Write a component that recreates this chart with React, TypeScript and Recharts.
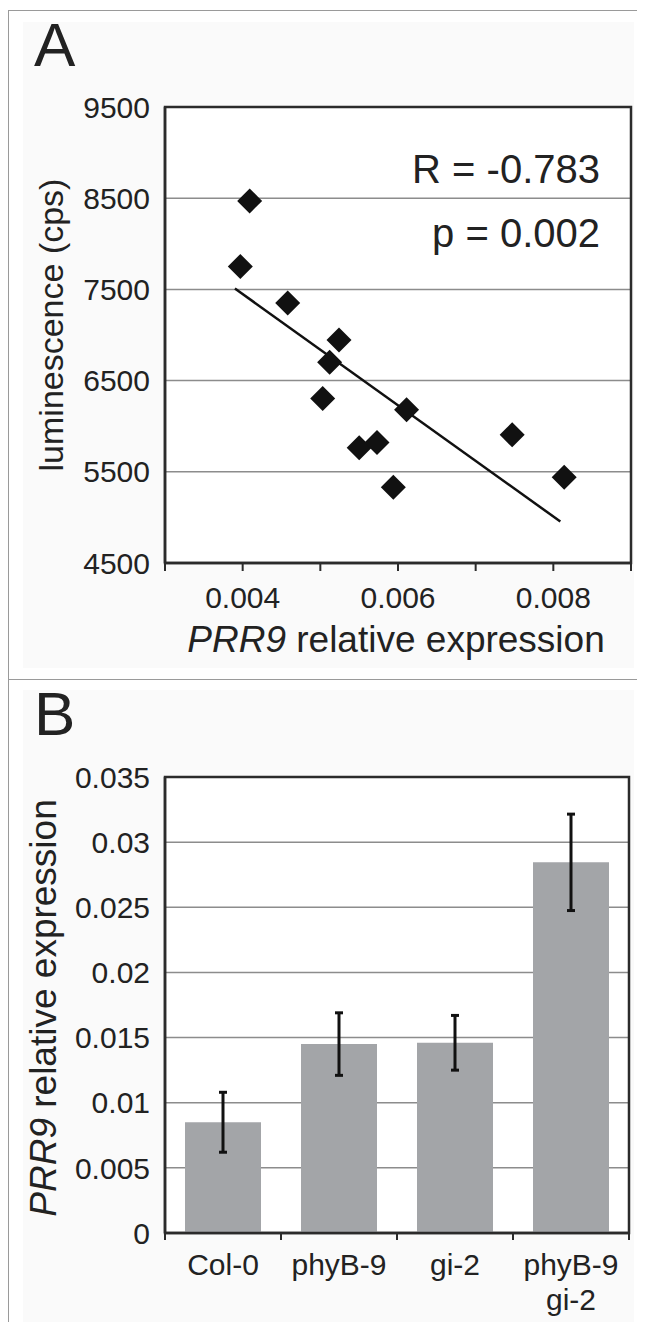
import {
  ScatterChart,
  Scatter,
  BarChart,
  Bar,
  XAxis,
  YAxis,
  CartesianGrid,
  ReferenceArea,
  ErrorBar,
} from "recharts";

// panel A: luminescence vs PRR9 expression
const prr9Expr = [0.00409, 0.00397, 0.00458, 0.00524, 0.00512, 0.00503, 0.00611, 0.0055, 0.00573, 0.00594, 0.00747, 0.00814];
const luminescence = [8470, 7750, 7350, 6945, 6700, 6305, 6180, 5765, 5820, 5330, 5905, 5440];
const trendX = [0.0039, 0.00809];
const trendY = [7510, 4955];
const xTicksA = [0.003, 0.004, 0.005, 0.006, 0.007, 0.008, 0.009];
const xTickLabelsA = ["", "0.004", "", "0.006", "", "0.008", ""];
const yTicksA = [4500, 5500, 6500, 7500, 8500, 9500];

// panel B: PRR9 expression per genotype
const genotypes = ["Col-0", "phyB-9", "gi-2", "phyB-9\ngi-2"];
const meanExpr = [0.0085, 0.0145, 0.0146, 0.02845];
const sdExpr = [0.0023, 0.0024, 0.0021, 0.0037];
const yTicksB = [0, 0.005, 0.01, 0.015, 0.02, 0.025, 0.03, 0.035];
// band edges (tick marks) and band centres (labels)
const xTicksB = [0, 0.5, 1, 1.5, 2, 2.5, 3, 3.5, 4];

const FONT = '"Liberation Sans", Arial, sans-serif';
const INK = "#222";
const BOX = "#2b2b2b";
const GRID = "#8c8c8c";

const scatterData = prr9Expr.map((x, i) => ({ x, y: luminescence[i] }));
const trendData = trendX.map((x, i) => ({ x, y: trendY[i] }));
const barData = genotypes.map((g, i) => ({ pos: i + 0.5, genotype: g, expr: meanExpr[i], sd: sdExpr[i] }));

const tickStyle = { fill: INK, fontSize: 30, fontFamily: FONT };
const boxLine = { stroke: BOX, strokeWidth: 2.5 };

const Diamond = (props: any) => {
  const { cx, cy } = props;
  const r = 12.5;
  return (
    <polygon
      points={`${cx},${cy - r} ${cx + r},${cy} ${cx},${cy + r} ${cx - r},${cy}`}
      fill="#111"
    />
  );
};

const NoDot = () => <g />;

// tickSize 6 + tickMargin 15 -> y is 21px below the axis line
const BandTick = (props: any) => {
  const { x, y, payload } = props;
  const v = payload.value;
  if (Number.isInteger(v)) {
    return <line x1={x} x2={x} y1={y - 21} y2={y - 14} stroke={BOX} strokeWidth={2} />;
  }
  const lines = genotypes[Math.floor(v)].split("\n");
  return (
    <text x={x} y={y} textAnchor="middle" fill={INK} fontSize={30} fontFamily={FONT}>
      {lines.map((l, i) => (
        <tspan key={i} x={x} dy={i === 0 ? "0.71em" : 35}>
          {l}
        </tspan>
      ))}
    </text>
  );
};

const abs = (s: any) => ({ position: "absolute" as const, ...s });

export default function App() {
  return (
    <div
      style={{
        position: "relative",
        width: 645,
        height: 1330,
        margin: -8,
        background: "#fff",
        fontFamily: FONT,
        color: INK,
        overflow: "hidden",
      }}
    >
      {/* frame + panel backgrounds */}
      <div style={abs({ left: 23, top: 22, width: 611, height: 646, background: "#fafafa" })} />
      <div style={abs({ left: 23, top: 690, width: 611, height: 632, background: "#fafafa" })} />
      <div style={abs({ left: 8, top: 10, width: 640, borderTop: "1.5px solid #9a9a9a" })} />
      <div style={abs({ left: 8, top: 679, width: 640, borderTop: "1.5px solid #9a9a9a" })} />
      <div style={abs({ left: 8, top: 10, height: 1320, borderLeft: "1.5px solid #9a9a9a" })} />

      {/* panel A */}
      <div style={abs({ left: 0, top: 0 })}>
        <ScatterChart width={645} height={680} margin={{ top: 107, right: 14, bottom: 87, left: 105 }}>
          <CartesianGrid vertical={false} stroke={GRID} strokeWidth={1.5} fill="#fff" />
          <XAxis
            type="number"
            dataKey="x"
            domain={[0.003, 0.009]}
            ticks={xTicksA}
            interval={0}
            tickFormatter={(v: number) => xTickLabelsA[xTicksA.indexOf(v)] ?? ""}
            tick={tickStyle}
            tickSize={8}
            tickMargin={16}
            height={30}
            axisLine={boxLine}
            tickLine={{ stroke: BOX, strokeWidth: 2 }}
            allowDataOverflow
          />
          <YAxis
            type="number"
            dataKey="y"
            domain={[4500, 9500]}
            ticks={yTicksA}
            interval={0}
            tick={tickStyle}
            tickSize={8}
            tickMargin={7}
            width={60}
            axisLine={boxLine}
            tickLine={false}
            allowDataOverflow
          />
          <Scatter
            data={trendData}
            line={{ stroke: "#111", strokeWidth: 2.5 }}
            shape={NoDot}
            isAnimationActive={false}
          />
          <Scatter data={scatterData} shape={Diamond} isAnimationActive={false} />
          <ReferenceArea
            x1={0.003}
            x2={0.009}
            y1={4500}
            y2={9500}
            ifOverflow="visible"
            fill="none"
            fillOpacity={0}
            stroke={BOX}
            strokeWidth={2.5}
          />
        </ScatterChart>
      </div>
      <div style={abs({ left: 34, top: 14, fontSize: 62, lineHeight: "62px" })}>A</div>
      <div style={abs({ right: 45, top: 149, fontSize: 40, lineHeight: "40px", whiteSpace: "nowrap" })}>
        R = -0.783
      </div>
      <div style={abs({ right: 45, top: 213, fontSize: 40, lineHeight: "40px", whiteSpace: "nowrap" })}>
        p = 0.002
      </div>
      <div
        style={abs({
          left: 396,
          top: 640,
          transform: "translate(-50%, -50%)",
          fontSize: 37,
          whiteSpace: "nowrap",
        })}
      >
        <i>PRR9</i> relative expression
      </div>
      <div
        style={abs({
          left: 51,
          top: 325,
          transform: "translate(-50%, -50%) rotate(-90deg)",
          fontSize: 34,
          whiteSpace: "nowrap",
        })}
      >
        luminescence (cps)
      </div>

      {/* panel B */}
      <div style={abs({ left: 0, top: 680 })}>
        <BarChart
          width={645}
          height={650}
          data={barData}
          margin={{ top: 97, right: 16, bottom: 37, left: 105 }}
        >
          <CartesianGrid vertical={false} stroke={GRID} strokeWidth={1.5} fill="#fff" />
          <XAxis
            type="number"
            dataKey="pos"
            domain={[0, 4]}
            ticks={xTicksB}
            interval={0}
            tick={<BandTick />}
            tickSize={6}
            tickMargin={15}
            height={60}
            axisLine={boxLine}
            tickLine={false}
            allowDataOverflow
          />
          <YAxis
            type="number"
            domain={[0, 0.035]}
            ticks={yTicksB}
            interval={0}
            tickFormatter={(v: number) => String(v)}
            tick={tickStyle}
            tickSize={8}
            tickMargin={7}
            width={60}
            axisLine={boxLine}
            tickLine={false}
            allowDataOverflow
          />
          <Bar dataKey="expr" fill="#a3a5a8" barSize={76} isAnimationActive={false}>
            <ErrorBar dataKey="sd" width={4} stroke="#111" strokeWidth={3} direction="y" />
          </Bar>
          <ReferenceArea
            x1={0}
            x2={4}
            y1={0}
            y2={0.035}
            ifOverflow="visible"
            fill="none"
            fillOpacity={0}
            stroke={BOX}
            strokeWidth={2.5}
          />
        </BarChart>
      </div>
      <div style={abs({ left: 34, top: 683, fontSize: 62, lineHeight: "62px" })}>B</div>
      <div
        style={abs({
          left: 44,
          top: 1008,
          transform: "translate(-50%, -50%) rotate(-90deg)",
          fontSize: 37,
          whiteSpace: "nowrap",
        })}
      >
        <i>PRR9</i> relative expression
      </div>
    </div>
  );
}
